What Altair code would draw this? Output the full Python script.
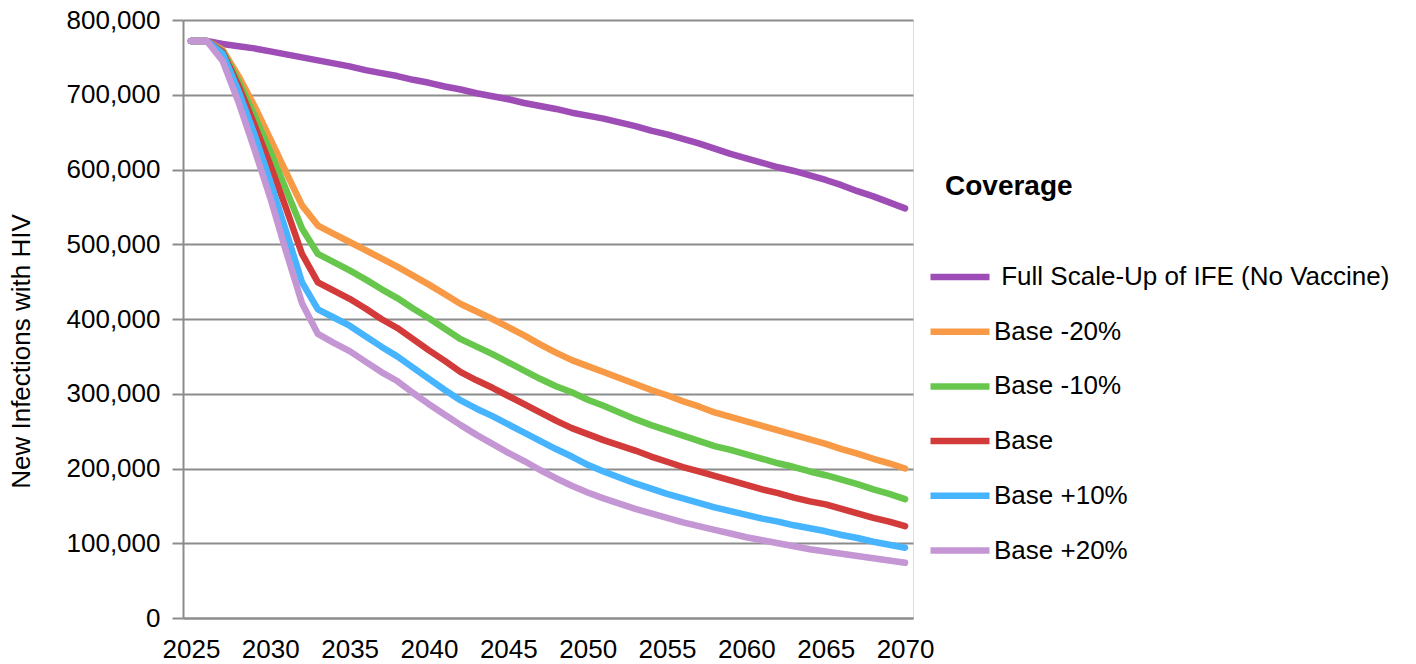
import altair as alt
import pandas as pd

years = list(range(2025, 2071))

series_names = [
    "\u200b\u00a0Full Scale-Up of IFE (No Vaccine)",
    "Base -20%",
    "Base -10%",
    "Base",
    "Base +10%",
    "Base +20%",
]
series_colors = ["#9F4DB6", "#F89A45", "#67C74C", "#D33A3A", "#46B4FF", "#C496D4"]

# values in thousands of new infections
full_scaleup = [772, 772, 768, 765, 762, 758, 754, 750, 746, 742, 738, 733, 729, 725, 720, 716,
                711, 707, 702, 698, 694, 689, 685, 681, 676, 672, 668, 663, 658, 652, 647, 641,
                635, 628, 621, 615, 609, 603, 598, 592, 586, 579, 571, 564, 556, 548]
base_m20 = [772, 772, 760, 725, 685, 641, 596, 552, 525, 514, 503, 492, 481, 470, 458, 446,
            433, 420, 410, 400, 389, 378, 366, 355, 345, 337, 329, 321, 313, 305, 298, 290,
            283, 275, 269, 263, 257, 251, 245, 239, 233, 226, 220, 213, 207, 200]
base_m10 = [772, 772, 758, 718, 672, 624, 573, 521, 487, 476, 465, 453, 440, 428, 414, 401,
            387, 373, 363, 353, 342, 331, 320, 310, 302, 292, 284, 275, 266, 258, 251, 244,
            237, 230, 225, 219, 213, 207, 202, 196, 191, 185, 179, 172, 166, 159]
base = [772, 772, 757, 712, 660, 606, 548, 487, 449, 438, 427, 414, 400, 388, 373, 358,
        344, 329, 318, 308, 297, 286, 275, 264, 254, 246, 238, 231, 224, 216, 209, 202,
        196, 190, 184, 178, 172, 167, 161, 156, 152, 146, 140, 134, 129, 123]
base_p10 = [772, 772, 755, 705, 647, 584, 517, 449, 413, 402, 391, 377, 363, 350, 335, 320,
            305, 291, 280, 270, 259, 248, 237, 226, 216, 205, 196, 188, 180, 173, 166, 160,
            154, 148, 143, 138, 133, 129, 124, 120, 116, 111, 107, 102, 98, 94]
base_p20 = [772, 772, 745, 690, 627, 562, 490, 421, 380, 368, 357, 343, 329, 317, 301, 286,
            272, 258, 245, 233, 221, 210, 198, 187, 177, 168, 160, 153, 146, 140, 134, 128,
            123, 118, 113, 108, 104, 100, 96, 92, 89, 86, 83, 80, 77, 74]

series_values = [full_scaleup, base_m20, base_m10, base, base_p10, base_p20]

y_ticks = [0, 100000, 200000, 300000, 400000, 500000, 600000, 700000, 800000]
x_ticks = [2025, 2030, 2035, 2040, 2045, 2050, 2055, 2060, 2065, 2070]

rows = []
for order, (name, vals) in enumerate(zip(series_names, series_values)):
    for yr, v in zip(years, vals):
        rows.append({"Year": yr, "Infections": v * 1000, "Coverage": name, "ord": order})
df = pd.DataFrame(rows)

FONT = "Liberation Sans"

lines = alt.Chart(df).mark_line(strokeWidth=6.5, strokeCap="round", strokeJoin="round").encode(
    x=alt.X("Year:Q",
            scale=alt.Scale(domain=[2024.5, 2070.5], nice=False, zero=False),
            axis=alt.Axis(values=x_ticks, format="d", title=None, grid=False, ticks=False,
                          domainColor="#8C8C8C", domainWidth=2,
                          labelFontSize=26, labelFont=FONT, labelColor="#000000",
                          labelPadding=18, labelFlush=False, labelOverlap=False)),
    y=alt.Y("Infections:Q",
            scale=alt.Scale(domain=[0, 800000], nice=False),
            axis=alt.Axis(values=y_ticks, format=",d", title="New Infections with HIV",
                          grid=True, gridColor="#8C8C8C", gridWidth=2,
                          domainColor="#8C8C8C", domainWidth=2,
                          tickColor="#8C8C8C", tickWidth=2, tickSize=11,
                          labelFontSize=26, labelFont=FONT, labelColor="#000000",
                          labelPadding=12, labelFlush=False, labelOverlap=False,
                          titleFontSize=26, titleFont=FONT, titleFontWeight="normal",
                          titleColor="#000000", titleX=-162, titleY=331,
                          titleBaseline="middle", titleAngle=270)),
    color=alt.Color("Coverage:N",
                    scale=alt.Scale(domain=series_names, range=series_colors),
                    sort=series_names,
                    legend=alt.Legend(title=None, orient="none", legendX=744, legendY=224,
                                      symbolType="stroke", symbolStrokeWidth=6.5,
                                      symbolSize=3481, labelFontSize=26, labelFont=FONT,
                                      labelColor="#000000", labelOffset=1, rowPadding=8.7,
                                      labelLimit=600)),
    detail="ord:O",
)

title_text = alt.Chart(pd.DataFrame({"t": ["Coverage"]})).mark_text(
    align="left", baseline="middle", fontSize=28, fontWeight="bold", font=FONT, color="#000000"
).encode(x=alt.value(762), y=alt.value(167), text="t:N")

chart = alt.layer(lines, title_text).properties(
    width=730, height=598,
    autosize=alt.AutoSizeParams(type="none"),
    padding={"left": 183, "top": 20, "right": 503, "bottom": 46},
).configure_view(stroke=None).configure(background="white")

chart.save("out.html", embed_options={"renderer": "svg", "actions": False})
